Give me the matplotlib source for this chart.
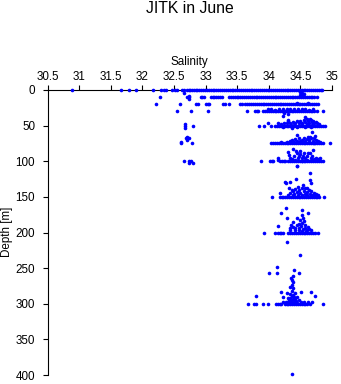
import matplotlib
matplotlib.use("Agg")
import matplotlib.pyplot as plt

plt.rcParams['font.family'] = ['Liberation Sans', 'DejaVu Sans']

title = "JITK in June"
xlabel = "Salinity"
ylabel = "Depth [m]"
xticks = [30.5, 31, 31.5, 32, 32.5, 33, 33.5, 34, 34.5, 35]
xticklabels = ["30.5", "31", "31.5", "32", "32.5", "33", "33.5", "34", "34.5", "35"]
yticks = [0, 50, 100, 150, 200, 250, 300, 350, 400]

# salinity values observed along the main sampling depths
row_0 = [30.89, 31.66, 31.78, 31.89, 32.17, 32.29, 32.34, 32.38, 32.47, 32.51, 32.55, 32.62, 32.66,
         32.70, 32.73, 32.76, 32.79, 32.81, 32.84, 32.87, 32.90, 32.93, 32.96, 32.99, 33.02, 33.05,
         33.08, 33.11, 33.14, 33.17, 33.20, 33.23, 33.26, 33.29, 33.32, 33.35, 33.38, 33.41, 33.44,
         33.47, 33.50, 33.53, 33.56, 33.59, 33.62, 33.65, 33.68, 33.71, 33.74, 33.77, 33.80, 33.83,
         33.86, 33.89, 33.92, 33.95, 33.98, 34.01, 34.04, 34.07, 34.10, 34.13, 34.16, 34.19, 34.22,
         34.25, 34.28, 34.31, 34.34, 34.37, 34.40, 34.43, 34.46, 34.49, 34.52, 34.55, 34.58, 34.61,
         34.64, 34.67, 34.70, 34.73, 34.76, 34.79, 34.82, 34.84]
row_10 = [32.27, 32.74, 32.92, 32.95, 32.98, 33.08, 33.11, 33.14, 33.17, 33.20, 33.23, 33.26, 33.37,
          33.40, 33.43, 33.46, 33.49, 33.52, 33.55, 33.58, 33.61, 33.64, 33.67, 33.70, 33.73, 33.76,
          33.79, 33.82, 33.85, 33.88, 33.91, 33.94, 33.97, 34.00, 34.03, 34.06, 34.09, 34.12, 34.15,
          34.18, 34.21, 34.24, 34.27, 34.30, 34.33, 34.36, 34.39, 34.42, 34.45, 34.48, 34.51, 34.54,
          34.57, 34.60, 34.63, 34.66, 34.69, 34.72, 34.77]
row_20 = [32.22, 32.60, 32.85, 32.88, 33.00, 33.03, 33.06, 33.27, 33.30, 33.37, 33.54, 33.57, 33.63,
          33.66, 33.69, 33.72, 33.75, 33.78, 33.81, 33.84, 33.87, 33.90, 33.93, 33.96, 33.99, 34.02,
          34.05, 34.08, 34.11, 34.14, 34.17, 34.20, 34.23, 34.26, 34.29, 34.32, 34.35, 34.38, 34.41,
          34.44, 34.47, 34.50, 34.53, 34.56, 34.59, 34.62, 34.65, 34.68, 34.71, 34.74, 34.78]
row_30 = [32.55, 32.77, 33.04, 33.65, 33.78, 33.81, 33.83, 33.91, 33.94, 33.97, 34.00, 34.03, 34.06,
          34.09, 34.12, 34.15, 34.18, 34.21, 34.24, 34.27, 34.30, 34.33, 34.36, 34.39, 34.42, 34.45,
          34.48, 34.51, 34.54, 34.57, 34.60, 34.63, 34.66, 34.69, 34.72, 34.76, 34.85]
row_50 = [32.67, 32.80, 33.84, 33.92, 34.04, 34.10, 34.13, 34.16, 34.19, 34.22, 34.25, 34.28, 34.31,
          34.34, 34.37, 34.40, 34.43, 34.46, 34.49, 34.52, 34.55, 34.58, 34.61, 34.64, 34.67, 34.70,
          34.73, 34.76, 34.79, 34.82, 34.85, 34.89]
row_75 = [32.61, 32.79, 34.04, 34.07, 34.10, 34.13, 34.16, 34.19, 34.22, 34.25, 34.28, 34.31, 34.34,
          34.37, 34.40, 34.43, 34.46, 34.49, 34.52, 34.55, 34.58, 34.61, 34.64, 34.67, 34.70, 34.73,
          34.76, 34.79, 34.82, 34.86, 34.97]
row_100 = [32.65, 32.74, 32.77, 33.88, 34.02, 34.05, 34.07, 34.18, 34.21, 34.24, 34.26, 34.31, 34.34,
           34.37, 34.40, 34.43, 34.46, 34.49, 34.52, 34.55, 34.58, 34.61, 34.64, 34.67, 34.70, 34.73,
           34.76, 34.79, 34.82, 34.85]
row_150 = [34.05, 34.18, 34.21, 34.23, 34.26, 34.29, 34.32, 34.35, 34.38, 34.41, 34.44, 34.47, 34.50,
           34.53, 34.56, 34.59, 34.62, 34.65, 34.68, 34.71, 34.74, 34.77, 34.80, 34.88]
row_200 = [33.93, 34.10, 34.15, 34.18, 34.20, 34.22, 34.31, 34.34, 34.37, 34.40, 34.43, 34.46, 34.49,
           34.52, 34.55, 34.58, 34.61, 34.64, 34.67, 34.70, 34.73, 34.78]
row_300 = [33.67, 33.76, 33.79, 33.91, 33.99, 34.11, 34.14, 34.17, 34.20, 34.25, 34.28, 34.31, 34.34,
           34.37, 34.40, 34.43, 34.46, 34.49, 34.52, 34.55, 34.58, 34.61, 34.65, 34.85]
row_depths = [0, 10, 20, 30, 50, 75, 100, 150, 200, 300]

# scattered samples off the main depths: (salinity, depth)
extra_upper = [(32.65, 4), (34.50, 3), (34.53, 4), (34.56, 5), (34.52, 6),
               (32.74, 8), (32.74, 12), (32.71, 10), (34.49, 7), (34.53, 8), (34.51, 9),
               (34.45, 18), (34.62, 18),
               (33.98, 27), (34.04, 27), (34.10, 28), (34.16, 27), (34.22, 27), (34.28, 26),
               (34.34, 27), (34.40, 27), (34.46, 27), (34.52, 26), (34.58, 27), (34.64, 28),
               (34.70, 27), (34.24, 32), (34.30, 33), (34.23, 36)]
extra_50 = [(32.67, 48), (32.67, 53), (33.99, 46), (34.14, 47), (34.20, 48), (34.24, 46), (34.28, 47),
            (34.30, 42), (34.31, 44), (34.34, 47), (34.36, 54), (34.38, 45), (34.42, 47), (34.45, 44),
            (34.48, 46), (34.50, 43), (34.53, 46), (34.55, 42), (34.57, 45), (34.58, 38), (34.60, 41),
            (34.62, 44), (34.63, 47), (34.65, 40), (34.67, 42), (34.68, 45), (34.70, 43), (34.72, 47),
            (34.74, 45), (34.77, 47), (34.80, 48), (34.23, 52), (34.45, 52), (34.58, 52), (34.66, 52),
            (34.40, 49), (34.52, 49), (34.61, 48), (34.69, 49), (34.35, 49)]
extra_75 = [(32.61, 73), (32.71, 68), (32.71, 66), (32.71, 70), (32.69, 68), (32.73, 68), (34.20, 73),
            (34.28, 73), (34.34, 72), (34.36, 70), (34.41, 69), (34.44, 63), (34.45, 71), (34.48, 68),
            (34.50, 72), (34.53, 70), (34.56, 67), (34.58, 72), (34.60, 69), (34.62, 66), (34.64, 70),
            (34.65, 66), (34.67, 68), (34.69, 59), (34.70, 71), (34.72, 67), (34.73, 64), (34.75, 70),
            (34.78, 72), (34.81, 73), (34.40, 73), (34.55, 73), (34.63, 73), (34.71, 74)]
extra_100 = [(32.74, 102), (32.80, 102), (34.15, 96), (34.15, 98), (34.31, 87), (34.32, 91), (34.33, 95),
             (34.36, 97), (34.39, 83), (34.40, 92), (34.43, 86), (34.44, 89), (34.46, 95), (34.47, 92),
             (34.49, 85), (34.50, 90), (34.52, 96), (34.54, 93), (34.56, 89), (34.58, 95), (34.61, 92),
             (34.62, 88), (34.65, 89), (34.66, 95), (34.68, 93), (34.70, 84), (34.71, 97), (34.74, 95),
             (34.78, 97), (34.81, 96), (34.45, 106), (34.36, 98), (34.60, 98), (34.52, 99), (34.42, 98),
             (34.68, 98)]
extra_125 = [(34.44, 107), (34.65, 116), (34.43, 125), (34.65, 127), (34.66, 131)]
extra_150 = [(34.25, 129), (34.34, 129), (34.27, 130), (34.32, 137), (34.54, 134), (34.60, 138),
             (34.39, 142), (34.18, 145), (34.72, 145), (34.30, 147), (34.34, 144), (34.36, 140),
             (34.40, 146), (34.42, 139), (34.44, 143), (34.46, 136), (34.48, 141), (34.50, 145),
             (34.52, 138), (34.55, 142), (34.57, 146), (34.58, 137), (34.61, 143), (34.63, 140),
             (34.65, 146), (34.67, 142), (34.69, 147), (34.72, 148), (34.75, 146), (34.78, 148),
             (34.46, 148), (34.53, 148), (34.60, 148), (34.38, 148)]
extra_200 = [(34.27, 166), (34.53, 168), (34.19, 172), (34.62, 172), (34.52, 175), (34.54, 179),
             (34.28, 180), (34.44, 179), (34.53, 186), (34.39, 185), (34.35, 190), (34.15, 191),
             (34.62, 192), (34.50, 182), (34.47, 188), (34.56, 184), (34.58, 190), (34.34, 194),
             (34.38, 192), (34.42, 193), (34.45, 190), (34.48, 194), (34.51, 191), (34.54, 195),
             (34.57, 193), (34.60, 196), (34.63, 195), (34.66, 197), (34.33, 197), (34.41, 196),
             (34.47, 197), (34.53, 198), (34.59, 198), (34.28, 213), (34.49, 231)]
extra_300 = [(34.13, 249), (34.40, 253), (34.00, 257), (34.13, 257), (34.47, 257), (34.39, 261),
             (34.37, 267), (34.36, 274), (34.39, 278), (34.51, 283), (34.67, 284), (34.73, 289),
             (33.79, 289), (34.19, 284), (34.23, 290), (34.28, 285), (34.35, 264), (34.38, 270),
             (34.34, 277), (34.37, 282), (34.33, 286), (34.41, 285), (34.36, 289), (34.30, 292),
             (34.40, 291), (34.44, 290), (34.32, 295), (34.38, 294), (34.43, 296), (34.47, 295),
             (34.27, 297), (34.51, 297), (34.56, 298), (34.62, 297), (34.68, 298), (34.22, 298),
             (34.35, 297), (34.40, 298), (34.44, 299), (34.34, 292), (34.39, 288), (34.42, 293),
             (34.36, 295), (34.31, 298)]
extra_deep = [(34.37, 398)]

rows = [row_0, row_10, row_20, row_30, row_50, row_75, row_100, row_150, row_200, row_300]
extras = extra_upper + extra_50 + extra_75 + extra_100 + extra_125 + extra_150 + extra_200 + extra_300 + extra_deep

sal = []
dep = []
for d, r in zip(row_depths, rows):
    sal.extend(r)
    dep.extend([d] * len(r))
for s, d in extras:
    sal.append(s)
    dep.append(d)

W, H = 341, 384
fig = plt.figure(figsize=(W / 100, H / 100), dpi=100)
x0, x1, y0, y1 = 47.7, 332.0, 90.0, 375.0
ax = fig.add_axes([x0 / W, 1 - y1 / H, (x1 - x0) / W, (y1 - y0) / H])

ax.plot(sal, dep, linestyle='none', marker='o', markersize=2.6, markeredgewidth=0,
        color='#0000ff', clip_on=False, zorder=3)

ax.set_xlim(30.5, 35)
ax.set_ylim(400, 0)
ax.xaxis.tick_top()
ax.set_xticks(xticks)
ax.set_xticklabels(xticklabels)
ax.set_yticks(yticks)
ax.set_yticklabels([str(v) for v in yticks])
for side in ('bottom', 'right'):
    ax.spines[side].set_visible(False)
for side in ('top', 'left'):
    ax.spines[side].set_linewidth(0.8)
ax.tick_params(axis='x', direction='out', length=3.6, width=0.8, labelsize=8.4, pad=1.8)
ax.tick_params(axis='y', direction='out', length=3.6, width=0.8, labelsize=8.4, pad=5.5)

cx = (x0 + x1) / 2 / W
fig.text(cx, 1 - 13.3 / H, title, ha='center', va='baseline', fontsize=11.3)
fig.text(cx, 1 - 65 / H, xlabel, ha='center', va='baseline', fontsize=8.4)
fig.text(7 / W, 1 - 232 / H, ylabel, ha='center', va='center', rotation=90, fontsize=8.4)

fig.savefig('out.png', dpi=100)
